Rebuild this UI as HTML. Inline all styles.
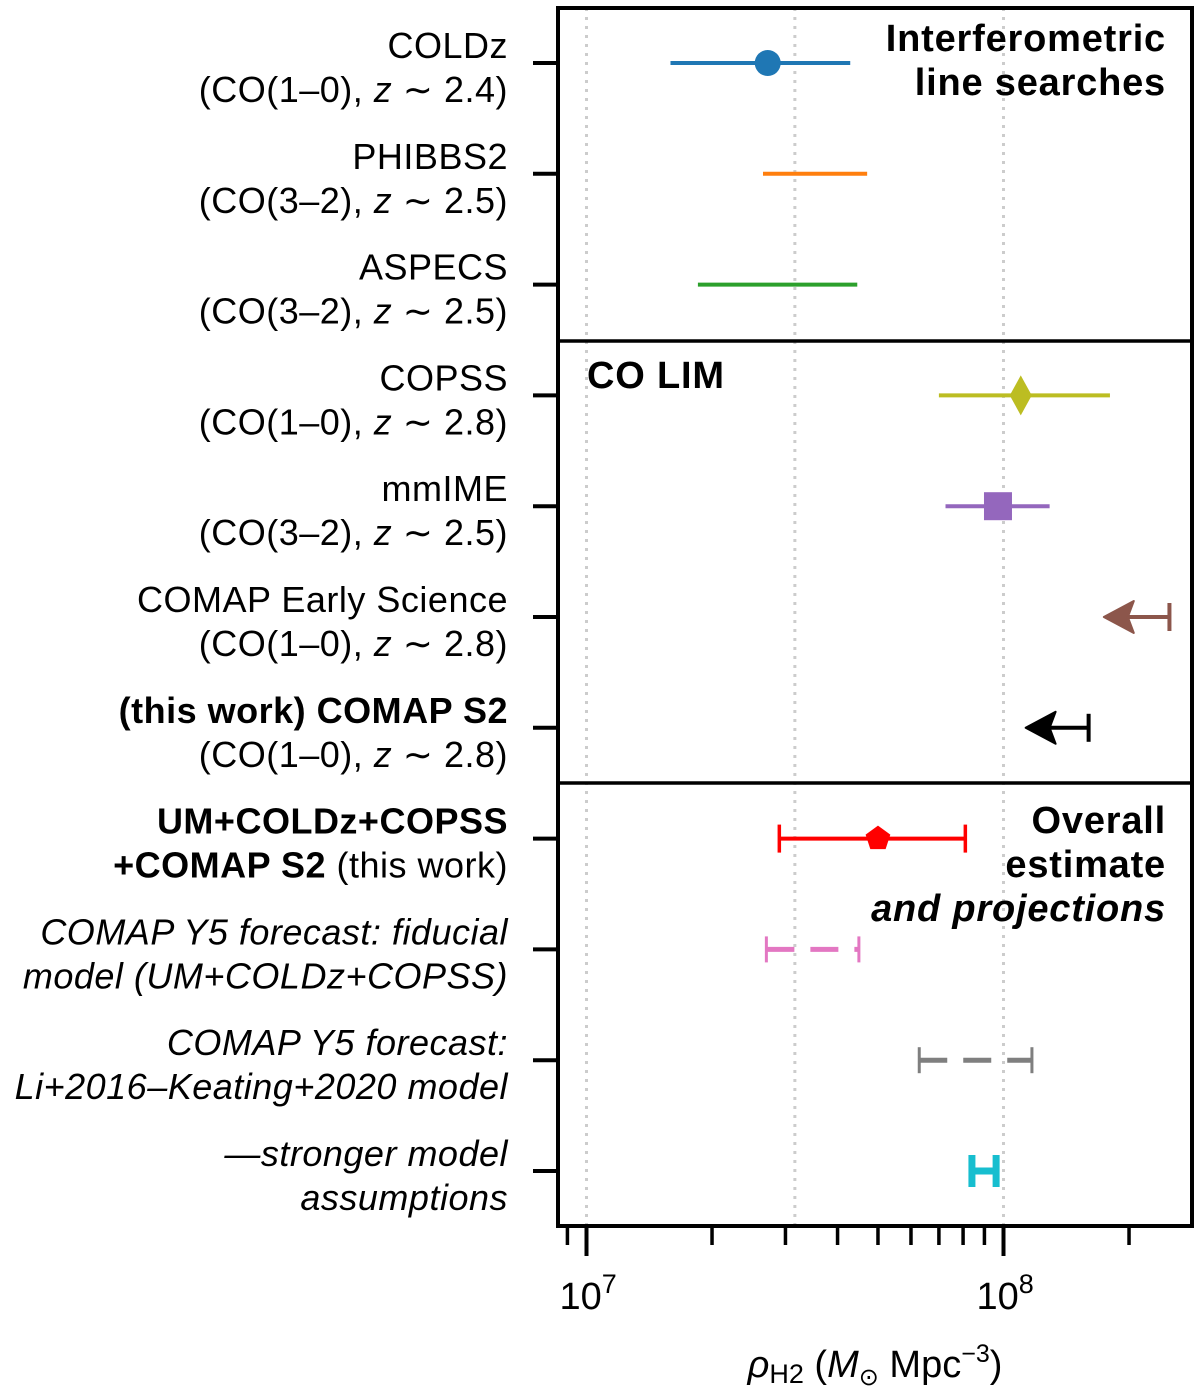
<!DOCTYPE html>
<html><head><meta charset="utf-8"><style>
html,body{margin:0;padding:0;background:#fff}
svg{display:block;font-family:"Liberation Sans",Arial,sans-serif}
</style></head><body>
<svg id="chart" width="1200" height="1392" viewBox="0 0 1200 1392" xmlns="http://www.w3.org/2000/svg">
<g id="grid"></g>
<g id="marks"></g>
<g id="frame">
<rect x="558" y="8" width="634" height="1218" fill="none" stroke="#000" stroke-width="4"/>
<line x1="558" y1="341" x2="1192" y2="341" stroke="#000" stroke-width="3.5"/>
<line x1="558" y1="783" x2="1192" y2="783" stroke="#000" stroke-width="3.5"/>
</g>
<g id="xaxis"></g>
<g id="labels" font-size="36" letter-spacing="0.5" text-anchor="end"></g>
<g font-weight="bold" font-size="38" letter-spacing="0.8">
<text x="1166" y="51" text-anchor="end">Interferometric</text>
<text x="1166" y="95" text-anchor="end">line searches</text>
<text x="587" y="388">CO LIM</text>
<text x="1166" y="833" text-anchor="end">Overall</text>
<text x="1166" y="877" text-anchor="end">estimate</text>
<text x="1166" y="921" text-anchor="end" font-style="italic">and projections</text>
</g>
<text x="875" y="1377" text-anchor="middle" font-size="38"><tspan font-style="italic">ρ</tspan><tspan font-size="27" dy="6">H2</tspan><tspan dy="-6"> (</tspan><tspan font-style="italic">M</tspan><tspan font-size="24" dy="8">⊙</tspan><tspan dy="-8"> Mpc</tspan><tspan font-size="25" dy="-15">−3</tspan><tspan dy="15">)</tspan></text>
</svg>
<script>
const rowNames = ["COLDz","PHIBBS2","ASPECS","COPSS","mmIME","COMAP Early Science","COMAP S2","Overall","Y5 fiducial","Y5 Li-Keating","stronger"];
const centers = [2.72e7,null,null,1.1e8,9.7e7,null,null,5.0e7,null,null,null];
const lows = [1.59e7,2.65e7,1.85e7,7.0e7,7.26e7,null,null,2.9e7,2.7e7,6.28e7,8.4e7];
const highs = [4.29e7,4.71e7,4.46e7,1.8e8,1.29e8,2.5e8,1.6e8,8.1e7,4.5e7,1.17e8,9.6e7];
const limitTips = [null,null,null,null,null,1.74e8,1.13e8,null,null,null,null];
const colors = ["#1f77b4","#ff7f0e","#2ca02c","#bcbd22","#9467bd","#8c564b","#000000","#ff0000","#e377c2","#7f7f7f","#17becf"];
const markers = ["circle",null,null,"diamond","square","limit","limit","pentagon","dashed","dashed","cap"];
const line1 = ["COLDz","PHIBBS2","ASPECS","COPSS","mmIME","COMAP Early Science","(this work) COMAP S2","UM+COLDz+COPSS","COMAP Y5 forecast: fiducial","COMAP Y5 forecast:","—stronger model"];
const line2 = ["(CO(1–0), z ∼ 2.4)","(CO(3–2), z ∼ 2.5)","(CO(3–2), z ∼ 2.5)","(CO(1–0), z ∼ 2.8)","(CO(3–2), z ∼ 2.5)","(CO(1–0), z ∼ 2.8)","(CO(1–0), z ∼ 2.8)","+COMAP S2 (this work)","model (UM+COLDz+COPSS)","Li+2016–Keating+2020 model","assumptions"];
const majorTicks = [1e7,1e8];
const minorTicks = [9e6,2e7,3e7,4e7,5e7,6e7,7e7,8e7,9e7,2e8];
const gridVals = [1e7,3.16e7,1e8];

const NS="http://www.w3.org/2000/svg";
const X0=586.5, DEC=417;
function xs(v){return X0+DEC*(Math.log10(v)-7);}
function ys(i){return 63+i*110.8;}
function mk(tag,attrs,parent){const e=document.createElementNS(NS,tag);for(const k in attrs)e.setAttribute(k,attrs[k]);parent.appendChild(e);return e;}
const grid=document.getElementById('grid'),marks=document.getElementById('marks'),xaxis=document.getElementById('xaxis'),labels=document.getElementById('labels');
gridVals.forEach(v=>{const l=mk('line',{x1:xs(v),x2:xs(v),y1:8,y2:1226,stroke:'#ccc','stroke-width':3,'stroke-dasharray':'3 6'},grid);

});
majorTicks.forEach((v,i)=>{const l=mk('line',{x1:xs(v),x2:xs(v),y1:1226,y2:1256,stroke:'#000','stroke-width':4},xaxis);


const t=mk('text',{x:xs(v)-27,y:1309,'font-size':38},xaxis);


t.innerHTML='10<tspan dy="-16" font-size="27">'+(7+i)+'</tspan>';});
minorTicks.forEach(v=>{const l=mk('line',{x1:xs(v),x2:xs(v),y1:1226,y2:1245,stroke:'#000','stroke-width':3.5},xaxis);

});
rowNames.forEach((n,i)=>{
const y=ys(i);
const tk=mk('line',{x1:533,x2:558,y1:y,y2:y,stroke:'#000','stroke-width':4},labels);


const t1=mk('text',{x:508,y:y-5},labels);


const t2=mk('text',{x:508,y:y+39},labels);


if(i==6){t1.innerHTML='<tspan font-weight="bold">(this work) COMAP S2</tspan>';}
else if(i==7){t1.setAttribute('font-weight','bold');t1.textContent=line1[i];}
else t1.textContent=line1[i];
if(i==7){t2.innerHTML='<tspan font-weight="bold">+COMAP S2</tspan> (this work)';}
else if(i>=8){t1.setAttribute('font-style','italic');t2.setAttribute('font-style','italic');t2.textContent=line2[i];}
else t2.innerHTML=line2[i].replace('z','<tspan font-style="italic">z</tspan>');
const c=colors[i],m=markers[i];
const g=mk('g',{},marks);


if(m==='limit'){
 const xh=xs(highs[i]),xt=xs(limitTips[i]);
 mk('line',{x1:xt+20,x2:xh,y1:y,y2:y,stroke:c,'stroke-width':4},g);
 mk('line',{x1:xh,x2:xh,y1:y-14,y2:y+14,stroke:c,'stroke-width':4},g);
 mk('polygon',{points:`${xt},${y} ${xt+30},${y-16} ${xt+24},${y} ${xt+30},${y+16}`,fill:c,stroke:c,'stroke-width':2,'stroke-linejoin':'round'},g);
 return;}
const xl=xs(lows[i]),xh=xs(highs[i]);
if(m==='dashed'){
 mk('line',{x1:xl,x2:xh,y1:y,y2:y,stroke:c,'stroke-width':5,'stroke-dasharray':'28 16'},g);
 mk('line',{x1:xl,x2:xl,y1:y-13,y2:y+13,stroke:c,'stroke-width':3},g);
 mk('line',{x1:xh,x2:xh,y1:y-13,y2:y+13,stroke:c,'stroke-width':3},g);
 return;}
mk('line',{x1:xl,x2:xh,y1:y,y2:y,stroke:c,'stroke-width':m==='cap'?7:4},g);
if(m==='cap'||m==='pentagon'){
 const w=m==='cap'?7:3.5,h=m==='cap'?16:14;
 mk('line',{x1:xl,x2:xl,y1:y-h,y2:y+h,stroke:c,'stroke-width':w},g);
 mk('line',{x1:xh,x2:xh,y1:y-h,y2:y+h,stroke:c,'stroke-width':w},g);}
if(centers[i]!==null){
 const cx=xs(centers[i]);
 if(m==='circle')mk('circle',{cx:cx,cy:y,r:13,fill:c},g);
 if(m==='diamond')mk('polygon',{points:`${cx},${y-20} ${cx+11},${y} ${cx},${y+20} ${cx-11},${y}`,fill:c},g);
 if(m==='square')mk('rect',{x:cx-14,y:y-14,width:28,height:28,fill:c},g);
 if(m==='pentagon'){let p=[];for(let k=0;k<5;k++){const a=-Math.PI/2+k*2*Math.PI/5;p.push((cx+13*Math.cos(a))+','+(y+13*Math.sin(a)));}mk('polygon',{points:p.join(' '),fill:c},g);}
}
});
</script>
</body></html>
